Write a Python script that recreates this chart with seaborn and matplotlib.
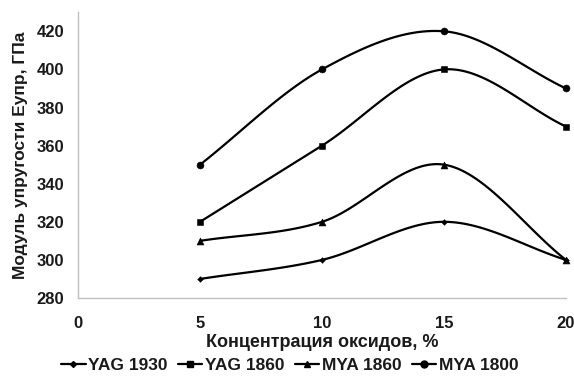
import numpy as np
import pandas as pd
import matplotlib
matplotlib.use("Agg")
import matplotlib.pyplot as plt
import seaborn as sns
from matplotlib.lines import Line2D

x_vals = [5, 10, 15, 20]
yag_1930 = [290, 300, 320, 300]
yag_1860 = [320, 360, 400, 370]
mya_1860 = [310, 320, 350, 300]
mya_1800 = [350, 400, 420, 390]
series_names = ["YAG 1930", "YAG 1860", "MYA 1860", "MYA 1800"]
series_vals = [yag_1930, yag_1860, mya_1860, mya_1800]
markers = ["D", "s", "^", "o"]
msizes = [3, 5, 5, 5]

xticks = [0, 5, 10, 15, 20]
yticks = [280, 300, 320, 340, 360, 380, 400, 420]

sns.set_style("white")
plt.rcParams["font.family"] = ["Liberation Sans", "DejaVu Sans"]
plt.rcParams["font.weight"] = "bold"


def catmull(xs, ys, n=40):
    xs = np.asarray(xs, float); ys = np.asarray(ys, float)
    px = np.concatenate([[2 * xs[0] - xs[1]], xs, [2 * xs[-1] - xs[-2]]])
    py = np.concatenate([[2 * ys[0] - ys[1]], ys, [2 * ys[-1] - ys[-2]]])
    outx, outy = [], []
    for i in range(1, len(px) - 2):
        t = np.linspace(0, 1, n)
        for arr, out in ((px, outx), (py, outy)):
            p0, p1, p2, p3 = arr[i - 1], arr[i], arr[i + 1], arr[i + 2]
            out.append(0.5 * ((2 * p1) + (-p0 + p2) * t + (2 * p0 - 5 * p1 + 4 * p2 - p3) * t ** 2
                              + (-p0 + 3 * p1 - 3 * p2 + p3) * t ** 3))
    return np.concatenate(outx), np.concatenate(outy)


fig = plt.figure(figsize=(5.74, 3.78), dpi=100)
ax = fig.add_axes([0.136, 0.2116, 0.850, 0.756])

rows = []
curves = []
for name, vals in zip(series_names, series_vals):
    for xv, yv in zip(x_vals, vals):
        rows.append({"x": xv, "y": yv, "s": name})
    cx, cy = catmull(x_vals, vals)
    curves.append(pd.DataFrame({"x": cx, "y": cy, "s": name}))
pts = pd.DataFrame(rows)
curve_df = pd.concat(curves, ignore_index=True)

sns.lineplot(data=curve_df, x="x", y="y", units="s", estimator=None, sort=False,
             color="black", lw=1.6, ax=ax, legend=False)
for name, m, ms in zip(series_names, markers, msizes):
    sub = pts[pts["s"] == name]
    sns.scatterplot(data=sub, x="x", y="y", marker=m, s=ms ** 2, color="black",
                    edgecolor="black", ax=ax, legend=False, zorder=3, clip_on=False)

ax.set_xlim(0, 20)
ax.set_ylim(280, 430)
ax.set_xticks(xticks)
ax.set_yticks(yticks)
ax.set_xticklabels([str(t) for t in xticks], fontsize=12, fontweight="bold")
ax.set_yticklabels([str(t) for t in yticks], fontsize=12, fontweight="bold")
for s in ["top", "right"]:
    ax.spines[s].set_visible(False)
for s in ["left", "bottom"]:
    ax.spines[s].set_color("#c0c0c0")
    ax.spines[s].set_linewidth(1)
ax.tick_params(axis="y", direction="out", length=4, color="#c0c0c0", width=1, pad=6,
               labelcolor="#1a1a1a")
ax.tick_params(axis="x", direction="out", length=4, color="#c0c0c0", width=1, pad=9,
               labelcolor="#1a1a1a")
ax.set_xlabel("Концентрация оксидов, %", fontsize=13, fontweight="bold", labelpad=2,
              color="#1a1a1a")
ax.set_ylabel("Модуль упругости Еупр, ГПа", fontsize=12.5, fontweight="bold", labelpad=6,
              color="#1a1a1a")

handles = [Line2D([0], [0], color="black", lw=1.6, marker=m, markersize=ms)
           for m, ms in zip(markers, msizes)]
leg = fig.legend(handles, series_names, loc="lower center", bbox_to_anchor=(0.505, -0.028), ncol=4,
                 frameon=False, handlelength=1.4, handletextpad=0.15, columnspacing=0.6,
                 prop={"size": 12.5, "weight": "bold"})
for t in leg.get_texts():
    t.set_color("#1a1a1a")

fig.savefig("out.png", dpi=100)
